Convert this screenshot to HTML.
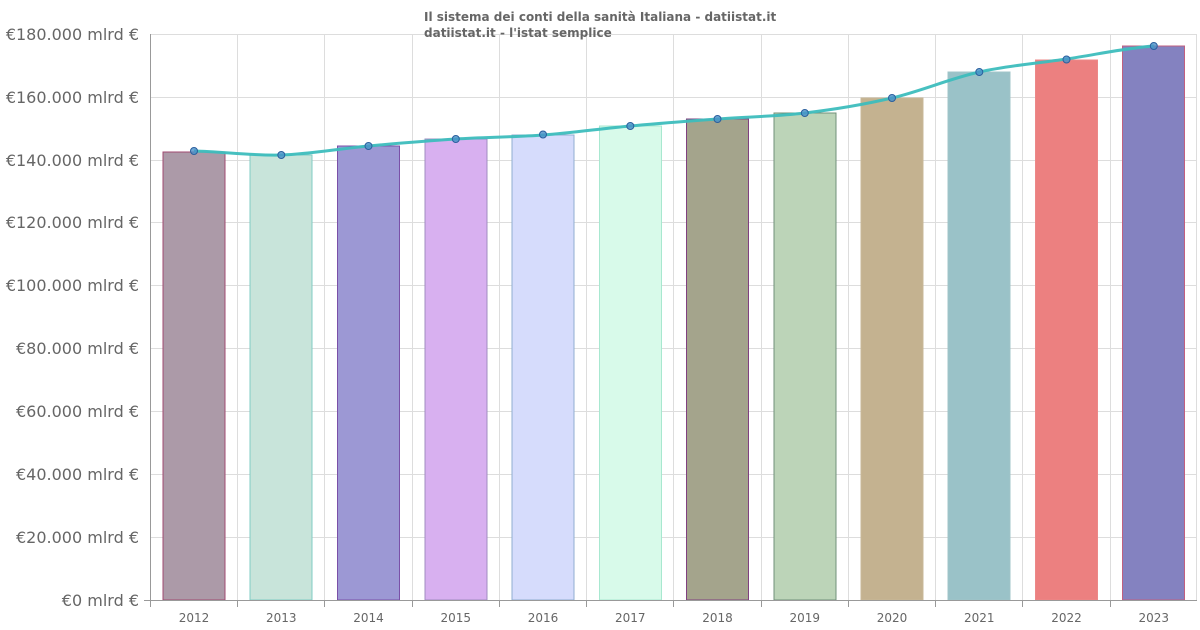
<!DOCTYPE html>
<html><head><meta charset="utf-8"><style>
html,body{margin:0;padding:0;background:#fff;}
svg{display:block;font-family:"DejaVu Sans","Liberation Sans",sans-serif;}
</style></head><body>
<svg width="1200" height="630" viewBox="0 0 1200 630">
<g stroke="#ddd" stroke-width="1">
<line x1="150" y1="34.5" x2="1197" y2="34.5"/><line x1="150" y1="97.5" x2="1197" y2="97.5"/>
<line x1="150" y1="160.5" x2="1197" y2="160.5"/><line x1="150" y1="222.5" x2="1197" y2="222.5"/>
<line x1="150" y1="285.5" x2="1197" y2="285.5"/><line x1="150" y1="348.5" x2="1197" y2="348.5"/>
<line x1="150" y1="411.5" x2="1197" y2="411.5"/><line x1="150" y1="474.5" x2="1197" y2="474.5"/>
<line x1="150" y1="537.5" x2="1197" y2="537.5"/>
<line x1="237.5" y1="34" x2="237.5" y2="600"/><line x1="324.5" y1="34" x2="324.5" y2="600"/>
<line x1="412.5" y1="34" x2="412.5" y2="600"/><line x1="499.5" y1="34" x2="499.5" y2="600"/>
<line x1="586.5" y1="34" x2="586.5" y2="600"/><line x1="673.5" y1="34" x2="673.5" y2="600"/>
<line x1="761.5" y1="34" x2="761.5" y2="600"/><line x1="848.5" y1="34" x2="848.5" y2="600"/>
<line x1="935.5" y1="34" x2="935.5" y2="600"/><line x1="1022.5" y1="34" x2="1022.5" y2="600"/>
<line x1="1110.5" y1="34" x2="1110.5" y2="600"/><line x1="1196.5" y1="34" x2="1196.5" y2="600"/>
</g>
<g font-size="12" font-weight="bold" fill="#666">
<text x="424" y="21">Il sistema dei conti della sanità Italiana - datiistat.it</text>
<text x="424" y="37">datiistat.it - l'istat semplice</text>
</g>
<g stroke-width="1">
<rect x="163" y="152" width="62" height="448" fill="#ac9aa8" stroke="#a04a70"/>
<rect x="250" y="155" width="62" height="445" fill="#c8e4da" stroke="#80ccc4"/>
<rect x="337.5" y="146" width="62" height="454" fill="#9c98d4" stroke="#7a50a8"/>
<rect x="425" y="139" width="62" height="461" fill="#d8b0f0" stroke="#a08cc0"/>
<rect x="512" y="135" width="62" height="465" fill="#d6dcfc" stroke="#90aed0"/>
<rect x="599.5" y="126" width="62" height="474" fill="#d8faea" stroke="#a8e8d0"/>
<rect x="686.5" y="119" width="62" height="481" fill="#a4a48c" stroke="#804080"/>
<rect x="774" y="113" width="62" height="487" fill="#bcd4b8" stroke="#70907a"/>
<rect x="861" y="98" width="62" height="502" fill="#c4b290" stroke="#c8b898"/>
<rect x="948" y="72" width="62" height="528" fill="#9ac2c8" stroke="#a0c4c8"/>
<rect x="1035.5" y="60" width="62" height="540" fill="#ec8080" stroke="#ec8888"/>
<rect x="1122.5" y="46" width="62" height="554" fill="#8482c0" stroke="#c06080"/>
</g>
<line x1="150.5" y1="34" x2="150.5" y2="600" stroke="#999"/>
<line x1="144" y1="600.5" x2="1197" y2="600.5" stroke="#999"/>
<path fill="none" stroke="#3dbdbd" stroke-width="3" stroke-opacity="0.95" d="M194,151 C223,151.67 252,155.83 281.3,155 C310,154.17 339,148.67 368.5,146 C397.6,143.33 426.8,140.83 455.8,139 C485,137.17 514,137.17 543,135 C572,132.83 601,128.67 630.3,126 C659.4,123.33 688.6,121.17 717.5,119 C746.6,116.83 775.8,116.5 804.8,113 C834,109.5 863,104.83 892,98 C921,91.17 950,78.5 979.3,72 C1008.4,65.5 1037.4,63.33 1066.5,59 C1095.6,54.67 1124.7,48.17 1153.8,46"/>
<g fill="#4a90c8" stroke="#2a5f9e" stroke-width="1" fill-opacity="0.8">
<circle cx="194" cy="151" r="3.5"/><circle cx="281.3" cy="155" r="3.5"/><circle cx="368.5" cy="146" r="3.5"/>
<circle cx="455.8" cy="139" r="3.5"/><circle cx="543" cy="134.5" r="3.5"/><circle cx="630.3" cy="126" r="3.5"/>
<circle cx="717.5" cy="119" r="3.5"/><circle cx="804.8" cy="113" r="3.5"/><circle cx="892" cy="98" r="3.5"/>
<circle cx="979.3" cy="72" r="3.5"/><circle cx="1066.5" cy="59.5" r="3.5"/><circle cx="1153.8" cy="46" r="3.5"/>
</g>
<g font-size="16" fill="#666" text-anchor="end">
<text x="139" y="40">€180.000 mlrd €</text><text x="139" y="103">€160.000 mlrd €</text>
<text x="139" y="166">€140.000 mlrd €</text><text x="139" y="228">€120.000 mlrd €</text>
<text x="139" y="291">€100.000 mlrd €</text><text x="139" y="354">€80.000 mlrd €</text>
<text x="139" y="417">€60.000 mlrd €</text><text x="139" y="480">€40.000 mlrd €</text>
<text x="139" y="543">€20.000 mlrd €</text><text x="139" y="606">€0 mlrd €</text>
</g>
<g font-size="12" fill="#666" text-anchor="middle">
<text x="194" y="622">2012</text><text x="281.3" y="622">2013</text><text x="368.5" y="622">2014</text>
<text x="455.8" y="622">2015</text><text x="543" y="622">2016</text><text x="630.3" y="622">2017</text>
<text x="717.5" y="622">2018</text><text x="804.8" y="622">2019</text><text x="892" y="622">2020</text>
<text x="979.3" y="622">2021</text><text x="1066.5" y="622">2022</text><text x="1153.8" y="622">2023</text>
</g>
<g stroke="#999"><line x1="150.5" y1="600" x2="150.5" y2="607"/><line x1="237.5" y1="600" x2="237.5" y2="607"/><line x1="324.5" y1="600" x2="324.5" y2="607"/><line x1="412.5" y1="600" x2="412.5" y2="607"/><line x1="499.5" y1="600" x2="499.5" y2="607"/><line x1="586.5" y1="600" x2="586.5" y2="607"/><line x1="673.5" y1="600" x2="673.5" y2="607"/><line x1="761.5" y1="600" x2="761.5" y2="607"/><line x1="848.5" y1="600" x2="848.5" y2="607"/><line x1="935.5" y1="600" x2="935.5" y2="607"/><line x1="1022.5" y1="600" x2="1022.5" y2="607"/><line x1="1110.5" y1="600" x2="1110.5" y2="607"/></g>
</svg>
</body></html>
